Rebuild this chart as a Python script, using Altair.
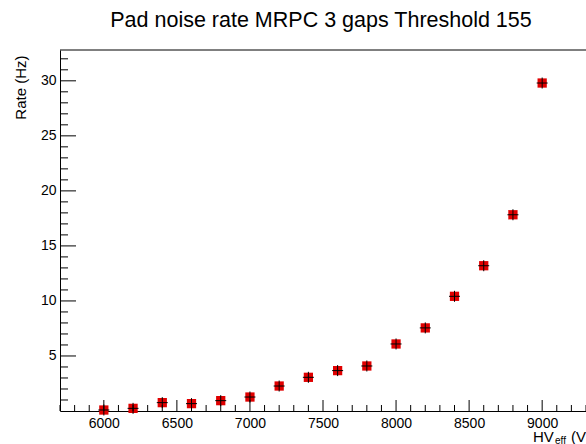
import altair as alt
import pandas as pd

# ---- data ----
hv = [6000, 6200, 6400, 6600, 6800, 7000, 7200, 7400, 7600, 7800,
      8000, 8200, 8400, 8600, 8800, 9000]
rate = [0.09, 0.24, 0.76, 0.67, 0.94, 1.27, 2.27, 3.06, 3.67, 4.09,
        6.09, 7.55, 10.42, 13.2, 17.83, 29.8]

x_labels = [6000, 6500, 7000, 7500, 8000, 8500, 9000]
y_labels = [5, 10, 15, 20, 25, 30]
x_minor = [v for v in range(5700, 9301, 100) if v % 500]
y_minor = [v for v in range(1, 33) if v % 5]

title_text = "Pad noise rate MRPC 3 gaps Threshold 155"

FONT = "Liberation Sans"
RED = "#e00000"
W, H = 526, 361

df = pd.DataFrame({"hv": hv, "rate": rate})
xs = alt.Scale(domain=[5700, 9300], nice=False, zero=False)
ys = alt.Scale(domain=[0, 32.8], nice=False, zero=False)

x_axis = alt.Axis(values=x_labels, ticks=False, tickSize=0, labelPadding=5,
                  labelFontSize=14, labelFont=FONT, labelColor="black",
                  format="d", title=None, grid=False, domainColor="black",
                  domainWidth=1, labelOverlap=False, labelFlush=False)
y_axis = alt.Axis(values=y_labels, ticks=False, tickSize=0, labelPadding=4,
                  labelFontSize=14, labelFont=FONT, labelColor="black",
                  grid=False, domainColor="black", domainWidth=1,
                  labelOverlap=False, labelFlush=False,
                  title="Rate (Hz)", titleX=-35, titleY=5, titleAngle=-90,
                  titleAlign="right", titleBaseline="alphabetic",
                  titleFontSize=15, titleFontWeight="normal", titleFont=FONT,
                  titleColor="black")

squares = alt.Chart(df).mark_point(
    shape="square", filled=True, size=86, color=RED, opacity=1, strokeWidth=0
).encode(
    x=alt.X("hv:Q", scale=xs, axis=x_axis),
    y=alt.Y("rate:Q", scale=ys, axis=y_axis),
)

crosses = alt.Chart(df).mark_point(
    shape="M-1,0H1M0,-1V1", filled=False, size=121, stroke="black",
    strokeWidth=1, opacity=1
).encode(
    x=alt.X("hv:Q", scale=xs, axis=x_axis),
    y=alt.Y("rate:Q", scale=ys, axis=y_axis),
)

ymaj = alt.Chart(pd.DataFrame({"v": y_labels})).mark_rule(color="black", strokeWidth=1).encode(
    y=alt.Y("v:Q", scale=ys, axis=y_axis), x=alt.value(0), x2=alt.value(16))
ymin = alt.Chart(pd.DataFrame({"v": y_minor})).mark_rule(color="black", strokeWidth=1).encode(
    y=alt.Y("v:Q", scale=ys, axis=y_axis), x=alt.value(0), x2=alt.value(8))
xmaj = alt.Chart(pd.DataFrame({"v": x_labels})).mark_rule(color="black", strokeWidth=1).encode(
    x=alt.X("v:Q", scale=xs, axis=x_axis), y=alt.value(H), y2=alt.value(H - 11))
xmin = alt.Chart(pd.DataFrame({"v": x_minor})).mark_rule(color="black", strokeWidth=1).encode(
    x=alt.X("v:Q", scale=xs, axis=x_axis), y=alt.value(H), y2=alt.value(H - 6))

top_line = alt.Chart(pd.DataFrame({"a": [0]})).mark_rule(color="black", strokeWidth=1).encode(
    x=alt.value(0), x2=alt.value(W), y=alt.value(0))

def label(text, x, y, size):
    return alt.Chart(pd.DataFrame({"t": [text]})).mark_text(
        font=FONT, fontSize=size, color="black", align="left",
        baseline="alphabetic"
    ).encode(text="t:N", x=alt.value(x), y=alt.value(y))

title = alt.Chart(pd.DataFrame({"t": [title_text]})).mark_text(
    font=FONT, fontSize=21.5, color="black", align="center", baseline="alphabetic"
).encode(text="t:N", x=alt.value(261), y=alt.value(-23))

xt1 = label("HV", 473, 392, 15)
xt2 = label("eff", 495, 393.5, 10)
xt3 = label("(V)", 511, 392, 15)

chart = alt.layer(
    squares, crosses, xmin, xmaj, ymin, ymaj, top_line, title, xt1, xt2, xt3
).properties(
    width=W, height=H, autosize="none",
    padding={"left": 60, "top": 50, "right": 0, "bottom": 33},
    background="white",
).configure_view(stroke=None)

chart.save("out.html", embed_options={"renderer": "svg", "actions": False})
